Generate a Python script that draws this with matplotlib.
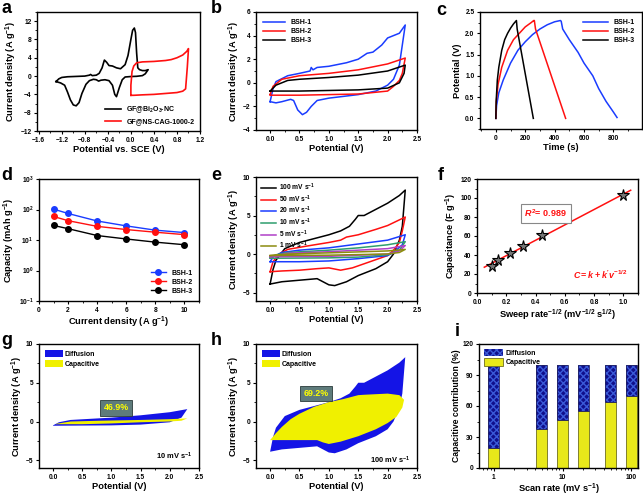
import numpy as np
import matplotlib
matplotlib.use('Agg')
import matplotlib.pyplot as plt
from matplotlib.ticker import AutoMinorLocator, MultipleLocator, NullLocator, LogLocator, NullFormatter
from matplotlib.patches import Patch

plt.rcParams['font.family'] = ['Liberation Sans', 'DejaVu Sans']
plt.rcParams['font.weight'] = 'bold'
plt.rcParams['axes.labelweight'] = 'bold'
plt.rcParams['mathtext.fontset'] = 'custom'
plt.rcParams['mathtext.rm'] = 'Liberation Sans:bold'
plt.rcParams['mathtext.it'] = 'Liberation Sans:italic:bold'
plt.rcParams['mathtext.bf'] = 'Liberation Sans:bold'
plt.rcParams['mathtext.sf'] = 'Liberation Sans:bold'
plt.rcParams['mathtext.default'] = 'rm'

# ---------------- data ----------------
# (a) CV vs SCE
a_bi_x = [-1.30, -1.25, -1.20, -1.10, -1.00, -0.90, -0.80, -0.72, -0.70, -0.67, -0.60, -0.55, -0.50, -0.46,
          -0.42, -0.38, -0.32, -0.25, -0.18, -0.10, -0.05, 0.00, 0.03, 0.06, 0.08, 0.10, 0.12, 0.15, 0.20,
          0.25, 0.30, 0.25, 0.20, 0.10, 0.00, -0.10, -0.15, -0.20, -0.25, -0.28, -0.32, -0.38, -0.45, -0.52,
          -0.56, -0.60, -0.65, -0.72, -0.78, -0.85, -0.90, -0.95, -1.00, -1.05, -1.10, -1.15, -1.22, -1.30]
a_bi_y = [-1.2, -0.6, -0.3, -0.15, -0.1, -0.05, 0.0, 0.2, 0.35, 0.1, 0.2, 0.6, 1.8, 3.5,
          3.0, 2.3, 2.2, 1.8, 1.6, 2.5, 4.5, 8.0, 10.0, 10.5, 9.5, 5.0, 1.8, 1.4, 1.2,
          1.2, 1.4, 0.5, 0.1, -0.05, -0.1, -0.2, -0.8, -2.5, -4.5, -4.0, -2.0, -1.0, -0.8, -0.9,
          -1.1, -0.8, -0.7, -1.0, -1.8, -3.8, -5.8, -6.5, -6.3, -5.2, -3.5, -2.0, -1.5, -1.2]
a_cag_x = [0.0, 0.0, 0.02, 0.05, 0.10, 0.20, 0.40, 0.60, 0.70, 0.80, 0.90, 0.97, 1.00, 0.98, 0.95,
           0.90, 0.80, 0.60, 0.40, 0.20, 0.05, 0.0]
a_cag_y = [-4.2, -2.0, 1.0, 2.2, 2.9, 3.1, 3.2, 3.4, 3.6, 4.0, 4.6, 5.4, 6.0, 2.0, -2.8,
           -3.3, -3.6, -3.8, -4.0, -4.1, -4.2, -4.2]
a_labels = ['GF@Bi$_2$O$_3$-NC', 'GF@NS-CAG-1000-2']

# (b) CV of devices
b_labels = ['BSH-1', 'BSH-2', 'BSH-3']
b1_x = [0.0, 0.1, 0.2, 0.35, 0.40, 0.47, 0.55, 0.62, 0.70, 0.80, 1.0, 1.5, 1.8, 2.0, 2.1, 2.2, 2.3,
        2.3, 2.2, 2.1, 2.0, 1.9, 1.75, 1.65, 1.5, 1.3, 1.0, 0.8, 0.73, 0.70, 0.68, 0.5, 0.3, 0.1, 0.05, 0.0]
b1_y = [-1.6, -1.7, -1.6, -1.4, -1.5, -2.3, -2.7, -2.5, -2.0, -1.5, -1.3, -1.0, -0.7, -0.2, 0.3, 1.5, 4.9,
        4.9, 4.2, 4.0, 3.8, 3.2, 2.6, 2.5, 2.0, 1.7, 1.4, 1.3, 1.1, 1.3, 1.0, 0.8, 0.6, 0.1, -0.5, -1.6]
b2_x = [0.0, 0.05, 0.2, 0.5, 1.0, 1.5, 2.0, 2.3, 2.25, 2.2, 2.1, 2.0, 1.5, 1.0, 0.5, 0.0, 0.0]
b2_y = [-1.0, -0.3, 0.3, 0.6, 0.8, 1.1, 1.6, 2.1, 0.8, 0.2, -0.3, -0.7, -0.95, -1.0, -1.05, -1.05, -1.0]
b3_x = [0.0, 0.1, 0.3, 0.5, 1.0, 1.5, 2.0, 2.3, 2.28, 2.2, 2.0, 1.5, 1.0, 0.5, 0.0, 0.0]
b3_y = [-0.7, -0.2, 0.2, 0.3, 0.45, 0.65, 1.0, 1.5, 0.8, 0.0, -0.45, -0.6, -0.65, -0.7, -0.7, -0.7]

# (c) GCD
c1_t = [0, 5, 20, 50, 100, 150, 200, 250, 300, 350, 400, 440, 445, 455, 500, 550, 560, 600, 650, 660,
        700, 750, 800, 825]
c1_v = [0.0, 0.3, 0.6, 0.9, 1.3, 1.6, 1.8, 1.97, 2.1, 2.2, 2.27, 2.3, 2.28, 2.1, 1.85, 1.6, 1.55, 1.3,
        1.05, 1.0, 0.7, 0.4, 0.15, 0.02]
c2_t = [0, 3, 15, 40, 80, 120, 160, 200, 240, 258, 262, 270, 475]
c2_v = [0.0, 0.4, 0.8, 1.2, 1.6, 1.85, 2.0, 2.15, 2.25, 2.3, 2.3, 2.1, 0.0]
c3_t = [0, 2, 10, 20, 40, 60, 80, 100, 120, 140, 145, 255]
c3_v = [0.0, 0.4, 0.9, 1.2, 1.6, 1.85, 2.0, 2.12, 2.22, 2.3, 2.1, 0.0]

# (d) rate capability
d_current = [1, 2, 4, 6, 8, 10]
d_bsh1 = [103, 74, 42, 29, 21, 17.5]
d_bsh2 = [59, 43, 28, 22, 18, 15]
d_bsh3 = [30, 23.5, 14, 10.8, 8.5, 7]

# (e) CV at scan rates
e_labels = ['100 mV s$^{-1}$', '50 mV s$^{-1}$', '20 mV s$^{-1}$', '10 mV s$^{-1}$', '5 mV s$^{-1}$', '1 mV s$^{-1}$']
e100_x = [0.0, 0.05, 0.1, 0.25, 0.5, 0.8, 1.0, 1.2, 1.35, 1.45, 1.5, 1.6, 1.8, 2.0, 2.2, 2.3,
          2.3, 2.25, 2.2, 2.1, 2.0, 1.8, 1.5, 1.3, 1.1, 1.0, 0.9, 0.8, 0.5, 0.2, 0.0, 0.0]
e100_y = [-3.9, -2.0, -0.8, 0.7, 1.5, 2.1, 2.5, 3.0, 3.6, 4.5, 5.0, 5.0, 5.8, 6.6, 7.6, 8.3,
          8.3, 3.6, 1.8, 0.0, -1.0, -1.9, -2.8, -3.6, -4.1, -4.0, -3.6, -3.2, -3.4, -3.6, -3.9, -3.9]
e50_x = [0.0, 0.05, 0.15, 0.3, 0.6, 1.0, 1.2, 1.3, 1.5, 1.8, 2.0, 2.3,
         2.3, 2.25, 2.2, 2.1, 2.0, 1.7, 1.4, 1.2, 1.0, 0.8, 0.5, 0.2, 0.0, 0.0]
e50_y = [-2.3, -1.0, 0.0, 0.6, 1.0, 1.5, 1.8, 2.2, 2.5, 3.2, 3.7, 4.8,
         4.8, 3.0, 1.5, 0.5, -0.2, -1.0, -1.8, -2.1, -1.8, -1.9, -2.1, -2.2, -2.3, -2.3]
e20_x = [0.0, 0.05, 0.2, 0.5, 1.0, 1.5, 2.0, 2.3, 2.3, 2.25, 2.1, 2.0, 1.5, 1.0, 0.5, 0.0, 0.0]
e20_y = [-1.0, -0.4, 0.2, 0.5, 0.8, 1.3, 1.8, 2.5, 2.5, 1.2, 0.2, -0.2, -0.6, -0.9, -1.0, -1.0, -1.0]
e10_x = [0.0, 0.1, 0.3, 1.0, 1.5, 2.0, 2.3, 2.3, 2.2, 2.0, 1.5, 1.0, 0.0, 0.0]
e10_y = [-0.5, -0.1, 0.2, 0.5, 0.8, 1.2, 1.6, 1.6, 0.5, -0.1, -0.4, -0.5, -0.55, -0.5]
e5_x = [0.0, 0.3, 1.0, 2.0, 2.3, 2.3, 2.2, 2.0, 1.0, 0.0, 0.0]
e5_y = [-0.35, 0.1, 0.3, 0.7, 1.1, 1.1, 0.4, 0.0, -0.3, -0.35, -0.35]
e1_x = [0.0, 0.3, 1.0, 2.0, 2.3, 2.3, 2.2, 2.0, 1.0, 0.0, 0.0]
e1_y = [-0.2, 0.0, 0.15, 0.4, 0.6, 0.6, 0.2, 0.0, -0.15, -0.2, -0.2]

# (f) capacitance vs sweep rate^-1/2
f_x = [0.1, 0.141, 0.224, 0.316, 0.447, 1.0]
f_y = [28, 35, 42, 50, 61, 103]
f_r2 = 0.989

# (g) capacitive region at 10 mV/s
g_cap_x = [0.05, 0.3, 0.8, 1.5, 2.0, 2.3, 2.3, 2.2, 2.0, 1.5, 1.0, 0.5, 0.05]
g_cap_y = [-0.3, 0.0, 0.1, 0.2, 0.3, 0.4, 0.4, 0.1, 0.0, -0.1, -0.25, -0.35, -0.35]
g_pct = '46.9%'

# (h) capacitive region at 100 mV/s
h_cap_x = [0.0, 0.1, 0.2, 0.35, 0.5, 0.75, 1.0, 1.25, 1.4, 1.5, 1.6, 2.0, 2.2, 2.28,
           2.25, 2.15, 2.0, 1.8, 1.5, 1.2, 1.0, 0.9, 0.8, 0.5, 0.0]
h_cap_y = [-2.4, -1.5, -0.7, 0.3, 1.0, 1.9, 2.5, 2.9, 3.2, 3.4, 3.45, 3.6, 3.4, 2.8,
           1.8, 0.6, -0.2, -1.0, -1.9, -2.6, -2.9, -2.7, -2.4, -2.4, -2.4]
h_pct = '69.2%'

# (i) capacitive contribution
i_rates = [1, 5, 10, 20, 50, 100]
i_cap = [19.5, 38, 46.9, 55, 64, 69.2]

# ---------------- figure ----------------
W, H = 643, 497
fig = plt.figure(figsize=(W / 100, H / 100), dpi=100)

TICK = 4.8
LABEL = 6.7
LEG = 5.0
PANEL = 13


def axes_px(l, r, t, b):
    return fig.add_axes([l / W, 1 - b / H, (r - l) / W, (b - t) / H])


def style(ax, minor_x=True, minor_y=True):
    for s in ax.spines.values():
        s.set_linewidth(1.0)
    ax.tick_params(which='major', direction='out', length=2.5, width=0.8, labelsize=TICK, pad=1.5)
    ax.tick_params(which='minor', direction='out', length=1.4, width=0.6)
    if minor_x:
        ax.xaxis.set_minor_locator(AutoMinorLocator(2))
    if minor_y:
        ax.yaxis.set_minor_locator(AutoMinorLocator(2))
    for lab in ax.get_xticklabels() + ax.get_yticklabels():
        lab.set_fontweight('bold')


def panel_letter(x, y, s):
    fig.text(x / W, 1 - y / H, s, fontsize=PANEL, fontweight='bold', va='top', ha='left')


# (a)
ax = axes_px(37, 200, 12, 131)
ax.plot(a_bi_x, a_bi_y, color='black', lw=1.2, label=a_labels[0])
ax.plot(a_cag_x, a_cag_y, color='#FF1010', lw=1.2, label=a_labels[1])
ax.set_xlim(-1.63, 1.2)
ax.set_ylim(-12, 14)
ax.yaxis.set_major_locator(MultipleLocator(4))
style(ax)
ax.set_xticks([-1.6, -1.2, -0.8, -0.4, 0.0, 0.4, 0.8, 1.2])
ax.xaxis.set_minor_locator(AutoMinorLocator(2))
ax.set_xlabel('Potential vs. SCE (V)', fontsize=LABEL, labelpad=1)
ax.set_ylabel('Current density (A g$^{-1}$)', fontsize=LABEL, labelpad=1)
ax.legend(loc='lower right', fontsize=LEG, frameon=False, handlelength=2.2, borderaxespad=0.4, labelspacing=0.5)
panel_letter(1, 0, 'a')

# (b)
ax = axes_px(256, 417, 12, 130)
ax.plot(b1_x, b1_y, color='#1A3CFF', lw=1.1, label=b_labels[0])
ax.plot(b2_x, b2_y, color='#FF1010', lw=1.1, label=b_labels[1])
ax.plot(b3_x, b3_y, color='black', lw=1.1, label=b_labels[2])
ax.set_xlim(-0.24, 2.5)
ax.set_ylim(-4, 6)
ax.xaxis.set_major_locator(MultipleLocator(0.5))
ax.yaxis.set_major_locator(MultipleLocator(2))
style(ax)
ax.set_xlabel('Potential (V)', fontsize=LABEL, labelpad=1)
ax.set_ylabel('Current density (A g$^{-1}$)', fontsize=LABEL, labelpad=1)
ax.legend(loc='upper left', fontsize=LEG, frameon=False, handlelength=3.2, borderaxespad=0.6, labelspacing=0.3)
panel_letter(211, 0, 'b')

# (c)
ax = axes_px(480, 642, 12, 129)
ax.plot(c1_t, c1_v, color='#1A3CFF', lw=1.1, label=b_labels[0])
ax.plot(c2_t, c2_v, color='#FF1010', lw=1.1, label=b_labels[1])
ax.plot(c3_t, c3_v, color='black', lw=1.1, label=b_labels[2])
ax.set_xlim(-108, 995)
ax.set_ylim(-0.25, 2.5)
ax.set_xticks([0, 200, 400, 600, 800])
ax.yaxis.set_major_locator(MultipleLocator(0.5))
style(ax)
ax.yaxis.set_major_formatter(matplotlib.ticker.FormatStrFormatter('%.1f'))
ax.set_xlabel('Time (s)', fontsize=LABEL, labelpad=1)
ax.set_ylabel('Potential (V)', fontsize=LABEL, labelpad=2)
ax.legend(loc='upper right', fontsize=LEG, frameon=False, handlelength=3.6, borderaxespad=0.6, labelspacing=0.3)
panel_letter(436, 2, 'c')

# (d)
ax = axes_px(39, 199, 179, 301)
ax.plot(d_current, d_bsh1, color='#1A3CFF', lw=1.0, marker='o', ms=4, mec='#1A3CFF', label=b_labels[0])
ax.plot(d_current, d_bsh2, color='#FF1010', lw=1.0, marker='o', ms=4, mec='#FF1010', label=b_labels[1])
ax.plot(d_current, d_bsh3, color='black', lw=1.0, marker='o', ms=4, mec='black', label=b_labels[2])
ax.set_yscale('log')
ax.set_xlim(0, 11)
ax.set_ylim(0.1, 1000)
ax.xaxis.set_major_locator(MultipleLocator(2))
style(ax, minor_y=False)
ax.yaxis.set_major_locator(LogLocator(base=10, numticks=10))
ax.yaxis.set_minor_locator(NullLocator())
ax.set_xlabel('Current density (A g$^{-1}$)', fontsize=LABEL, labelpad=1)
ax.set_ylabel('Capacity (mAh g$^{-1}$)', fontsize=LABEL, labelpad=1)
ax.legend(loc='lower right', fontsize=LEG, frameon=False, handlelength=2.2, borderaxespad=0.5, labelspacing=0.3)
panel_letter(1, 167, 'd')

# (e)
ax = axes_px(256, 417, 177, 301)
e_sets = [(e100_x, e100_y, 'black'), (e50_x, e50_y, '#FF1010'), (e20_x, e20_y, '#1A3CFF'),
          (e10_x, e10_y, '#2E9E6E'), (e5_x, e5_y, '#B040C8'), (e1_x, e1_y, '#8C8C10')]
for (xx, yy, col), lab in zip(e_sets, e_labels):
    ax.plot(xx, yy, color=col, lw=1.1, label=lab)
ax.set_xlim(-0.24, 2.5)
ax.set_ylim(-6.1, 10)
ax.xaxis.set_major_locator(MultipleLocator(0.5))
ax.yaxis.set_major_locator(MultipleLocator(5))
style(ax)
ax.set_xlabel('Potential (V)', fontsize=LABEL, labelpad=1)
ax.set_ylabel('Current density (A g$^{-1}$)', fontsize=LABEL, labelpad=1)
ax.legend(loc='upper left', fontsize=4.8, frameon=False, handlelength=2.3, borderaxespad=0.3,
          labelspacing=0.05, handletextpad=0.4)
panel_letter(211, 167, 'e')

# (f)
ax = axes_px(477, 638, 179, 293)
slope, intercept = np.polyfit(f_x, f_y, 1)
fx_line = np.array([0.05, 1.05])
ax.plot(fx_line, slope * fx_line + intercept, color='#FF1010', lw=1.1)
ax.plot(f_x, f_y, ls='none', marker='*', ms=8.5, mfc='#777777', mec='black', mew=0.8)
ax.set_xlim(0, 1.1)
ax.set_ylim(0, 120)
ax.xaxis.set_major_locator(MultipleLocator(0.2))
ax.yaxis.set_major_locator(MultipleLocator(20))
style(ax)
ax.xaxis.set_major_formatter(matplotlib.ticker.FormatStrFormatter('%.1f'))
ax.set_xlabel('Sweep rate$^{-1/2}$ (mV$^{-1/2}$ s$^{1/2}$)', fontsize=LABEL, labelpad=1)
ax.set_ylabel('Capacitance (F g$^{-1}$)', fontsize=LABEL, labelpad=1)
ax.text(0.47, 84, r'$\mathit{R}^{2}$= %.3f' % f_r2, color='#FF1010', fontsize=6.5,
        fontweight='bold', ha='center', va='center',
        bbox=dict(boxstyle='square,pad=0.4', fc='white', ec='#888888', lw=0.8))
ax.text(0.84, 19, r"$\mathit{C=k+k'v}^{\mathit{-1/2}}$", color='#FF1010', fontsize=6.4, ha='center', va='center')
panel_letter(438, 167, 'f')

# (g)
DIFF = '#1414E6'
CAPC = '#F0F000'
ax = axes_px(39, 199, 344, 468)
ax.fill(e10_x, e10_y, color=DIFF, lw=0)
ax.fill(g_cap_x, g_cap_y, color=CAPC, lw=0)
ax.set_xlim(-0.24, 2.5)
ax.set_ylim(-6, 10)
ax.xaxis.set_major_locator(MultipleLocator(0.5))
ax.yaxis.set_major_locator(MultipleLocator(5))
style(ax)
ax.set_xlabel('Potential (V)', fontsize=LABEL, labelpad=1)
ax.set_ylabel('Current density (A g$^{-1}$)', fontsize=LABEL, labelpad=1)
ax.text(1.08, 1.75, g_pct, color='#FFFF00', fontsize=6.4, fontweight='bold', ha='center', va='center',
        bbox=dict(boxstyle='square,pad=0.35', fc='#5E7B7B', ec='#2A3A3A', lw=0.6))
ax.text(2.08, -4.5, '10 mV s$^{-1}$', fontsize=5.4, ha='center', va='center')
ax.legend(handles=[Patch(fc=DIFF, ec='none', label='Diffusion'), Patch(fc=CAPC, ec='none', label='Capacitive')],
          loc='upper left', fontsize=LEG, frameon=False, handlelength=2.5, handleheight=1.1,
          borderaxespad=0.5, labelspacing=0.3, handletextpad=0.3)
panel_letter(1, 332, 'g')

# (h)
ax = axes_px(256, 417, 344, 468)
ax.fill(e100_x, e100_y, color=DIFF, lw=0)
ax.fill(h_cap_x, h_cap_y, color=CAPC, lw=0)
ax.set_xlim(-0.24, 2.5)
ax.set_ylim(-6, 10)
ax.xaxis.set_major_locator(MultipleLocator(0.5))
ax.yaxis.set_major_locator(MultipleLocator(5))
style(ax)
ax.set_xlabel('Potential (V)', fontsize=LABEL, labelpad=1)
ax.set_ylabel('Current density (A g$^{-1}$)', fontsize=LABEL, labelpad=1)
ax.text(0.78, 3.66, h_pct, color='#FFFF00', fontsize=6.4, fontweight='bold', ha='center', va='center',
        bbox=dict(boxstyle='square,pad=0.35', fc='#5E7B7B', ec='#2A3A3A', lw=0.6))
ax.text(2.05, -4.95, '100 mV s$^{-1}$', fontsize=5.4, ha='center', va='center')
ax.legend(handles=[Patch(fc=DIFF, ec='none', label='Diffusion'), Patch(fc=CAPC, ec='none', label='Capacitive')],
          loc='upper left', fontsize=LEG, frameon=False, handlelength=2.5, handleheight=1.1,
          borderaxespad=0.5, labelspacing=0.3, handletextpad=0.3)
panel_letter(211, 332, 'h')

# (i)
ax = axes_px(479, 638, 344, 468)
half = 0.08
rates = np.array(i_rates, dtype=float)
caps = np.array(i_cap)
left = rates * 10 ** (-half)
width = rates * (10 ** half - 10 ** (-half))
NAVY = '#10108C'
ax.bar(left, caps, width=width, align='edge', color='#E8E81A', edgecolor='#6E6E20', lw=0.6)
ax.bar(left, 100 - caps, bottom=caps, width=width, align='edge', color=NAVY, edgecolor='#3A5AD8',
       hatch='xxxxx', lw=0)
ax.bar(left, 100 - caps, bottom=caps, width=width, align='edge', color='none', edgecolor='#202060', lw=0.6)
ax.set_xscale('log')
ax.set_xlim(0.61, 125)
ax.set_ylim(0, 120)
ax.yaxis.set_major_locator(MultipleLocator(30))
style(ax, minor_x=False)
ax.set_xticks([1, 10, 100])
ax.set_xticklabels(['1', '10', '100'])
ax.xaxis.set_minor_locator(LogLocator(base=10, subs=np.arange(2, 10), numticks=10))
ax.xaxis.set_minor_formatter(NullFormatter())
for lab in ax.get_xticklabels():
    lab.set_fontweight('bold')
ax.set_xlabel('Scan rate (mV s$^{-1}$)', fontsize=LABEL, labelpad=1)
ax.set_ylabel('Capacitive contribution (%)', fontsize=6.2, labelpad=1)
ax.legend(handles=[Patch(fc=NAVY, ec='#3A5AD8', hatch='xxxxx', lw=0, label='Diffusion'),
                   Patch(fc='#E8E81A', ec='#6E6E20', lw=0.6, label='Capacitive')],
          loc='upper left', fontsize=LEG, frameon=False, handlelength=2.8, handleheight=1.3,
          borderaxespad=0.3, labelspacing=0.2, handletextpad=0.3)
panel_letter(455, 323, 'i')

fig.savefig('out.png', dpi=100)
